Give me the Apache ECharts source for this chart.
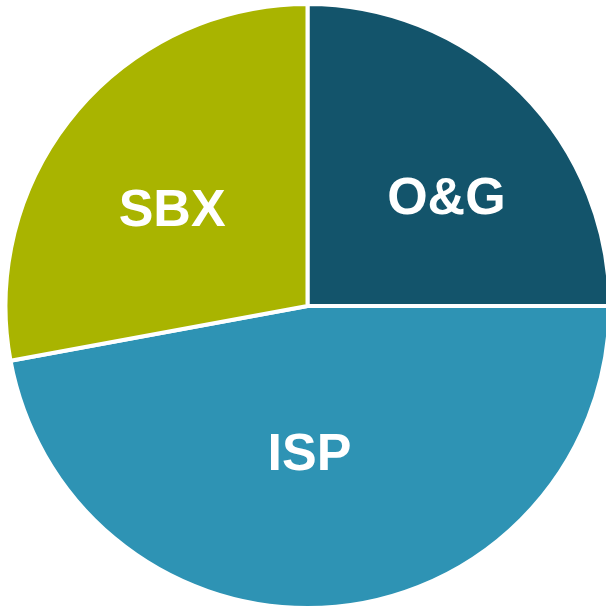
<!DOCTYPE html>
<html>
<head>
<meta charset="utf-8">
<script src="https://cdn.jsdelivr.net/npm/echarts@6/dist/echarts.min.js"></script>
<style>
  html, body { margin: 0; padding: 0; background: #fff; }
  #chart { width: 606px; height: 606px; }
</style>
</head>
<body>
<div id="chart"></div>
<script>
// segments, clockwise from 12 o'clock
const segNames = ["O&G", "ISP", "SBX"];
const segValues = [25, 47.1, 27.9];
const segColors = ["#13546b", "#2e93b4", "#a9b400"];

// nudges so the labels sit where the original puts them
const labelNudge = [[30, 3], [-12, -4], [-17, 4]];

const chart = echarts.init(document.getElementById("chart"));
chart.setOption({
  animation: false,
  series: [{
    type: "pie",
    center: [307.5, 306],
    radius: 302,
    startAngle: 90,
    clockwise: true,
    silent: true,
    itemStyle: { borderColor: "#fff", borderWidth: 4 },
    label: {
      show: true,
      position: "inside",
      formatter: "{b}",
      color: "#fff",
      fontSize: 52,
      fontWeight: "bold",
      fontFamily: "Liberation Sans, Arial, sans-serif"
    },
    labelLine: { show: false },
    labelLayout: function (p) {
      const n = labelNudge[p.dataIndex];
      return { dx: n[0], dy: n[1] };
    },
    data: segNames.map((name, i) => ({
      name: name,
      value: segValues[i],
      itemStyle: { color: segColors[i] }
    }))
  }]
});
</script>
</body>
</html>
